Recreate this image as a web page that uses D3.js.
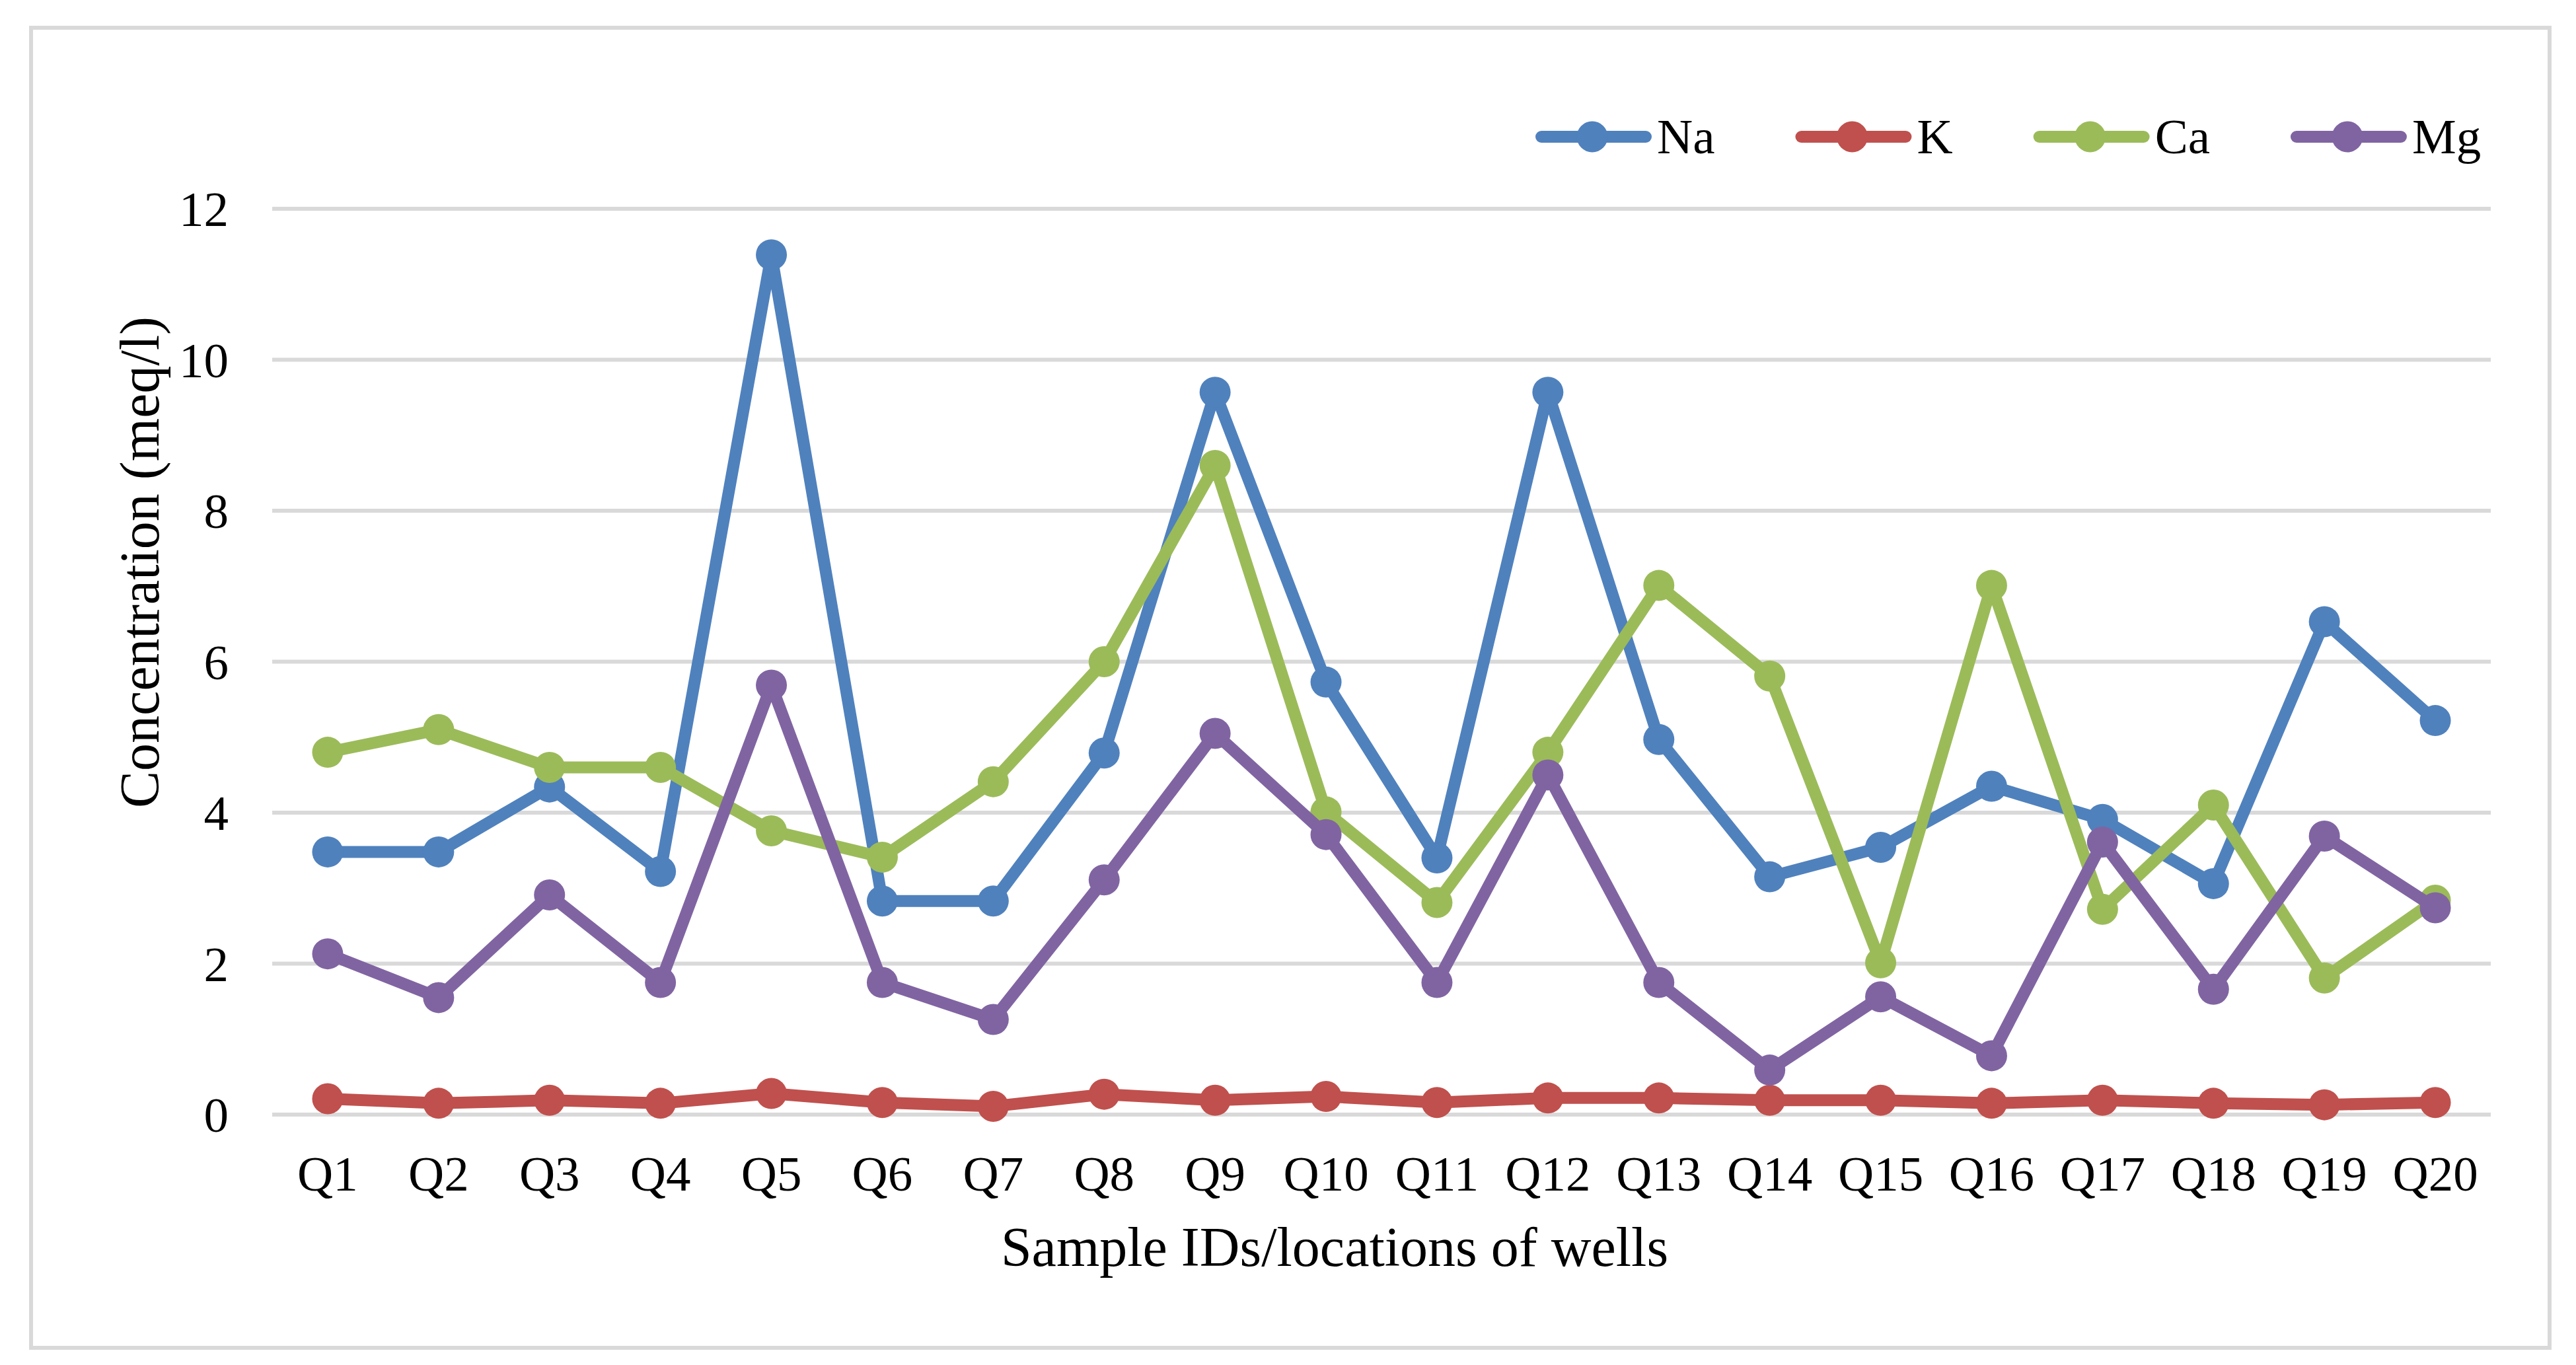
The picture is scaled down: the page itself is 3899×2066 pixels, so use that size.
<!DOCTYPE html>
<html>
<head>
<meta charset="utf-8">
<script src="https://cdn.jsdelivr.net/npm/d3@7"></script>
<style>
  html, body { margin: 0; padding: 0; background: #ffffff; }
  svg { display: block; }
  text { font-family: "Liberation Serif", "Times New Roman", serif; fill: #000; }
</style>
</head>
<body>
<svg id="chart" width="3899" height="2066"></svg>
<script>
// ---- Data ----
const categories = ["Q1","Q2","Q3","Q4","Q5","Q6","Q7","Q8","Q9","Q10",
                    "Q11","Q12","Q13","Q14","Q15","Q16","Q17","Q18","Q19","Q20"];
const naValues = [3.48, 3.48, 4.34, 3.22, 11.39, 2.83, 2.83, 4.79, 9.57, 5.73,
                  3.40, 9.57, 4.97, 3.15, 3.54, 4.35, 3.91, 3.06, 6.53, 5.22];
const kValues  = [0.21, 0.15, 0.19, 0.15, 0.28, 0.16, 0.11, 0.27, 0.19, 0.24,
                  0.16, 0.22, 0.22, 0.19, 0.19, 0.15, 0.19, 0.15, 0.13, 0.16];
const caValues = [4.80, 5.10, 4.60, 4.60, 3.76, 3.41, 4.41, 6.00, 8.60, 4.01,
                  2.81, 4.80, 7.01, 5.81, 2.01, 7.01, 2.72, 4.10, 1.81, 2.84];
const mgValues = [2.13, 1.55, 2.91, 1.75, 5.69, 1.75, 1.26, 3.11, 5.05, 3.71,
                  1.75, 4.50, 1.75, 0.59, 1.56, 0.78, 3.61, 1.66, 3.69, 2.74];
const seriesNames = ["Na", "K", "Ca", "Mg"];
const seriesColors = ["#4f81bd", "#c0504d", "#9bbb59", "#8064a2"];
const yTicks = [0, 2, 4, 6, 8, 10, 12];
const yTitle = "Concentration (meq/l)";
const xTitle = "Sample IDs/locations of wells";

const series = [naValues, kValues, caValues, mgValues].map((vals, i) => ({
  name: seriesNames[i], color: seriesColors[i], values: vals
}));

// ---- Layout ----
const svg = d3.select("#chart");
const plot = { left: 412, right: 3770, top: 316, bottom: 1687 };
const tickFont = 75, titleFont = 84, legendFont = 75;
const lineW = 18, markerR = 23.5;

// outer border
svg.append("rect")
  .attr("x", 47).attr("y", 42).attr("width", 3859 - 47).attr("height", 2040 - 42)
  .attr("fill", "#fff").attr("stroke", "#d9d9d9").attr("stroke-width", 6);

const x = d3.scaleBand().domain(categories).range([plot.left, plot.right]).padding(0);
const y = d3.scaleLinear().domain([0, 12]).range([plot.bottom, plot.top]);
const cx = d => x(d) + x.bandwidth() / 2;

// gridlines
svg.append("g").selectAll("line").data(yTicks).join("line")
  .attr("x1", plot.left).attr("x2", plot.right)
  .attr("y1", d => y(d)).attr("y2", d => y(d))
  .attr("stroke", "#d9d9d9").attr("stroke-width", 6);

// y axis labels
const yAxis = d3.axisLeft(y).tickValues(yTicks).tickSize(0).tickPadding(0).tickFormat(d3.format("d"));
const gy = svg.append("g").attr("transform", `translate(346,0)`).call(yAxis);
gy.select(".domain").remove();
gy.selectAll("text").attr("font-size", tickFont).attr("font-family", null)
  .attr("x", 0).attr("dy", "0.34em").attr("text-anchor", "end");

// x axis labels
const xAxis = d3.axisBottom(x).tickSize(0).tickPadding(0);
const gx = svg.append("g").attr("transform", `translate(0,1802)`).call(xAxis);
gx.select(".domain").remove();
gx.selectAll("text").attr("font-size", tickFont).attr("font-family", null)
  .attr("y", 0).attr("dy", 0).attr("text-anchor", "middle");

// axis titles
svg.append("text")
  .attr("transform", "translate(240,851) rotate(-90)")
  .attr("text-anchor", "middle").attr("font-size", titleFont)
  .text(yTitle);
svg.append("text")
  .attr("x", 2020).attr("y", 1916)
  .attr("text-anchor", "middle").attr("font-size", titleFont)
  .text(xTitle);

// lines + markers
const line = d3.line().x((d, i) => cx(categories[i])).y(d => y(d));
const gs = svg.append("g").selectAll("g").data(series).join("g");
gs.append("path")
  .attr("d", d => line(d.values))
  .attr("fill", "none").attr("stroke", d => d.color)
  .attr("stroke-width", lineW).attr("stroke-linejoin", "round").attr("stroke-linecap", "round");
gs.each(function(s) {
  d3.select(this).selectAll("circle").data(s.values).join("circle")
    .attr("cx", (d, i) => cx(categories[i])).attr("cy", d => y(d))
    .attr("r", markerR).attr("fill", s.color);
});

// legend
const legend = svg.append("g").attr("transform", "translate(0,207)");
let lx = 2324;
series.forEach(s => {
  const g = legend.append("g").attr("transform", `translate(${lx},0)`);
  g.append("line").attr("x1", 9).attr("x2", 167).attr("y1", 0).attr("y2", 0)
    .attr("stroke", s.color).attr("stroke-width", lineW).attr("stroke-linecap", "round");
  g.append("circle").attr("cx", 86).attr("cy", 0).attr("r", markerR).attr("fill", s.color);
  const t = g.append("text").attr("x", 184).attr("y", 25)
    .attr("font-size", legendFont).text(s.name);
  const w = t.node().getComputedTextLength();
  lx += 184 + w + 122;
});
</script>
</body>
</html>
